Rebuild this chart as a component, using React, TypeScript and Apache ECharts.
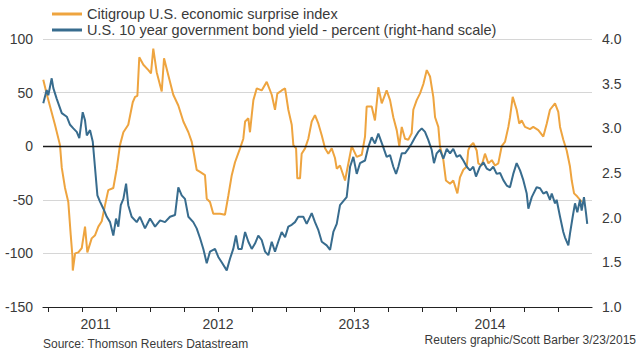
import React, { useEffect, useRef } from "react";
import * as echarts from "echarts";

// Citigroup U.S. economic surprise index: [decimal year, index]
const surprise: [number, number][] = [
  [2011.215, 62], [2011.240, 49], [2011.265, 37], [2011.301, 20], [2011.338, 1], [2011.351, -20],
  [2011.375, -39], [2011.399, -52], [2011.417, -83], [2011.429, -102], [2011.432, -116], [2011.449, -100],
  [2011.473, -99], [2011.498, -95], [2011.522, -75], [2011.539, -99], [2011.571, -86], [2011.596, -83],
  [2011.620, -75], [2011.645, -70], [2011.669, -55], [2011.693, -41], [2011.730, -39], [2011.755, -21],
  [2011.779, 1], [2011.804, 13], [2011.840, 20], [2011.873, 41], [2011.890, 46], [2011.907, 47],
  [2011.921, 83], [2011.951, 76], [2011.988, 71], [2012.007, 68], [2012.024, 91], [2012.049, 69],
  [2012.086, 51], [2012.103, 82], [2012.135, 66], [2012.171, 48], [2012.208, 38], [2012.245, 23],
  [2012.282, 13], [2012.307, 4], [2012.324, -8], [2012.343, -22], [2012.368, -24], [2012.404, -27],
  [2012.417, -49], [2012.441, -52], [2012.465, -63], [2012.515, -63], [2012.551, -64], [2012.576, -46],
  [2012.601, -27], [2012.625, -15], [2012.662, -2], [2012.686, 7], [2012.699, 23], [2012.723, 26],
  [2012.735, 13], [2012.748, 29], [2012.760, 43], [2012.785, 54], [2012.821, 52], [2012.858, 60],
  [2012.895, 48], [2012.919, 34], [2012.936, 49], [2012.968, 52], [2012.993, 54], [2013.017, 34],
  [2013.042, 20], [2013.054, 1], [2013.074, -2], [2013.083, -30], [2013.103, -30], [2013.115, -7],
  [2013.140, -2], [2013.164, 7], [2013.189, 23], [2013.213, 29], [2013.238, 21], [2013.263, 10],
  [2013.287, -2], [2013.311, -7], [2013.336, -2], [2013.360, -11], [2013.373, -21], [2013.397, -18],
  [2013.434, -32], [2013.483, 0], [2013.520, -10], [2013.557, -8], [2013.581, 9], [2013.593, 37],
  [2013.630, 37], [2013.654, 24], [2013.679, 55], [2013.704, 40], [2013.740, 52], [2013.765, 43],
  [2013.789, 27], [2013.814, 15], [2013.833, 0], [2013.851, 18], [2013.875, 7], [2013.899, 6],
  [2013.924, 12], [2013.936, 34], [2013.961, 43], [2013.985, 49], [2014.010, 58], [2014.035, 71],
  [2014.059, 65], [2014.083, 46], [2014.096, 27], [2014.120, 18], [2014.132, 0], [2014.157, -13],
  [2014.176, -32], [2014.206, -35], [2014.230, -32], [2014.260, -44], [2014.279, -29], [2014.304, -22],
  [2014.329, -19], [2014.340, -4], [2014.353, 0], [2014.377, 3], [2014.402, -4], [2014.414, -16],
  [2014.439, -18], [2014.463, -7], [2014.488, -16], [2014.513, -13], [2014.537, -18], [2014.561, -16],
  [2014.586, 0], [2014.610, 4], [2014.635, 18], [2014.647, 27], [2014.667, 46], [2014.696, 34],
  [2014.715, 21], [2014.733, 24], [2014.757, 18], [2014.794, 16], [2014.818, 18], [2014.855, 15],
  [2014.892, 9], [2014.917, 21], [2014.941, 34], [2014.978, 40], [2015.002, 32], [2015.015, 18],
  [2015.039, 6], [2015.064, -4], [2015.088, -19], [2015.101, -32], [2015.118, -44], [2015.142, -47],
  [2015.162, -50], [2015.174, -52],
];

// U.S. 10 year government bond yield, percent: [decimal year, yield]
const yields: [number, number][] = [
  [2011.215, 3.28], [2011.240, 3.43], [2011.252, 3.37], [2011.277, 3.56], [2011.289, 3.45], [2011.314, 3.33],
  [2011.351, 3.17], [2011.388, 3.13], [2011.412, 3.04], [2011.436, 3.00], [2011.461, 2.96], [2011.480, 2.89],
  [2011.505, 3.18], [2011.522, 3.09], [2011.535, 2.92], [2011.559, 2.98], [2011.579, 2.85], [2011.596, 2.55],
  [2011.613, 2.25], [2011.632, 2.18], [2011.657, 2.10], [2011.682, 2.01], [2011.706, 1.95], [2011.730, 1.80],
  [2011.750, 1.99], [2011.767, 1.90], [2011.785, 2.14], [2011.804, 2.21], [2011.824, 2.38], [2011.840, 2.14],
  [2011.865, 2.01], [2011.902, 1.95], [2011.926, 2.01], [2011.963, 1.88], [2012.000, 1.99], [2012.037, 1.90],
  [2012.074, 1.97], [2012.110, 1.95], [2012.147, 2.01], [2012.184, 2.03], [2012.208, 2.34], [2012.233, 2.25],
  [2012.257, 2.21], [2012.282, 2.01], [2012.318, 1.95], [2012.343, 1.88], [2012.368, 1.77], [2012.392, 1.65],
  [2012.417, 1.49], [2012.441, 1.62], [2012.478, 1.65], [2012.502, 1.56], [2012.527, 1.50], [2012.564, 1.41],
  [2012.588, 1.54], [2012.612, 1.65], [2012.632, 1.80], [2012.649, 1.65], [2012.674, 1.65], [2012.699, 1.84],
  [2012.723, 1.73], [2012.748, 1.65], [2012.772, 1.71], [2012.796, 1.80], [2012.821, 1.75], [2012.846, 1.62],
  [2012.870, 1.58], [2012.895, 1.73], [2012.919, 1.62], [2012.943, 1.73], [2012.968, 1.84], [2012.993, 1.78],
  [2013.017, 1.90], [2013.042, 1.92], [2013.066, 1.95], [2013.090, 2.01], [2013.127, 2.01], [2013.152, 1.93],
  [2013.189, 2.05], [2013.213, 1.95], [2013.238, 1.86], [2013.263, 1.73], [2013.299, 1.69], [2013.324, 1.64],
  [2013.348, 1.84], [2013.373, 1.93], [2013.397, 2.14], [2013.446, 2.23], [2013.471, 2.57], [2013.495, 2.68],
  [2013.520, 2.49], [2013.544, 2.61], [2013.581, 2.64], [2013.605, 2.79], [2013.630, 2.90], [2013.654, 2.83],
  [2013.679, 2.94], [2013.715, 2.79], [2013.740, 2.68], [2013.765, 2.70], [2013.789, 2.57], [2013.809, 2.49],
  [2013.826, 2.57], [2013.851, 2.72], [2013.875, 2.72], [2013.899, 2.77], [2013.924, 2.83], [2013.949, 2.90],
  [2013.973, 2.96], [2013.998, 3.00], [2014.022, 2.96], [2014.046, 2.87], [2014.071, 2.76], [2014.088, 2.61],
  [2014.108, 2.72], [2014.132, 2.76], [2014.157, 2.66], [2014.182, 2.77], [2014.206, 2.72], [2014.230, 2.77],
  [2014.255, 2.68], [2014.279, 2.70], [2014.304, 2.64], [2014.329, 2.57], [2014.353, 2.53], [2014.377, 2.57],
  [2014.397, 2.46], [2014.426, 2.57], [2014.451, 2.62], [2014.476, 2.55], [2014.500, 2.53], [2014.524, 2.57],
  [2014.549, 2.49], [2014.574, 2.50], [2014.598, 2.42], [2014.623, 2.36], [2014.647, 2.34], [2014.671, 2.49],
  [2014.696, 2.61], [2014.721, 2.53], [2014.745, 2.42], [2014.770, 2.27], [2014.782, 2.10], [2014.807, 2.23],
  [2014.843, 2.34], [2014.868, 2.33], [2014.892, 2.27], [2014.917, 2.29], [2014.941, 2.20], [2014.954, 2.27],
  [2014.978, 2.16], [2014.990, 2.20], [2015.015, 2.01], [2015.039, 1.84], [2015.051, 1.78], [2015.076, 1.69],
  [2015.088, 1.82], [2015.108, 2.01], [2015.125, 2.16], [2015.142, 2.06], [2015.162, 2.20], [2015.174, 2.08],
  [2015.191, 2.23], [2015.206, 2.05], [2015.215, 1.93],
];

const quarterTicks = [
  2011.25, 2011.5, 2011.75, 2012, 2012.25, 2012.5, 2012.75, 2013, 2013.25, 2013.5, 2013.75,
  2014, 2014.25, 2014.5, 2014.75, 2015,
];
const yearLabels = [2011.6, 2012.5, 2013.5, 2014.5];

const SURPRISE_NAME = "Citigroup U.S. economic surprise index";
const YIELD_NAME = "U.S. 10 year government bond yield - percent (right-hand scale)";
const SOURCE_TEXT = "Source: Thomson Reuters Datastream";
const CREDIT_TEXT = "Reuters graphic/Scott Barber 3/23/2015";

const FONT = "'Liberation Sans', Arial, sans-serif";
const ORANGE = "#EEA43F";
const BLUE = "#386C8E";
const TEXT = "#3a3a3a";

export default function App() {
  const ref = useRef<HTMLDivElement>(null);
  useEffect(() => {
    if (!ref.current) return;
    const chart = echarts.init(ref.current, null, { renderer: "svg" });
    chart.setOption({
      animation: false,
      backgroundColor: "#ffffff",
      textStyle: { fontFamily: FONT },
      legend: {
        orient: "vertical",
        left: 52,
        top: 6,
        padding: 0,
        itemWidth: 30,
        itemHeight: 3,
        itemGap: 0,
        icon: "rect",
        data: [SURPRISE_NAME, YIELD_NAME],
        textStyle: { fontFamily: FONT, fontSize: 14.5, lineHeight: 16, color: TEXT },
      },
      grid: { left: 43, width: 549, top: 39, height: 268, containLabel: false },
      xAxis: {
        type: "value",
        min: 2011.213,
        max: 2015.25,
        axisLine: { onZero: false, lineStyle: { color: "#222", width: 1.2 } },
        axisTick: { customValues: quarterTicks, length: 5, lineStyle: { color: "#222" } },
        axisLabel: {
          customValues: yearLabels,
          formatter: (v: number) => String(Math.floor(v)),
          fontFamily: FONT,
          fontSize: 14,
          color: TEXT,
          margin: 10,
        },
        splitLine: { show: false },
      },
      yAxis: [
        {
          type: "value",
          min: -150,
          max: 100,
          interval: 50,
          position: "left",
          axisLine: { show: false },
          axisTick: { show: false },
          axisLabel: { fontFamily: FONT, fontSize: 14, color: TEXT, margin: 10 },
          splitLine: { lineStyle: { color: "#d6d6d6", width: 1 } },
        },
        {
          type: "value",
          min: 1,
          max: 4,
          interval: 0.5,
          position: "right",
          axisLine: { show: false },
          axisTick: { show: false },
          axisLabel: {
            fontFamily: FONT,
            fontSize: 14,
            color: TEXT,
            margin: 10,
            formatter: (v: number) => v.toFixed(1),
          },
          splitLine: { show: false },
        },
      ],
      series: [
        {
          name: SURPRISE_NAME,
          type: "line",
          yAxisIndex: 0,
          data: surprise,
          showSymbol: false,
          symbol: "none",
          lineStyle: { color: ORANGE, width: 2 },
          itemStyle: { color: ORANGE },
          markLine: {
            silent: true,
            symbol: "none",
            label: { show: false },
            lineStyle: { color: "#1a1a1a", width: 1.3, type: "solid" },
            data: [{ yAxis: 0 }],
          },
          z: 2,
        },
        {
          name: YIELD_NAME,
          type: "line",
          yAxisIndex: 1,
          data: yields,
          showSymbol: false,
          symbol: "none",
          lineStyle: { color: BLUE, width: 2 },
          itemStyle: { color: BLUE },
          z: 3,
        },
      ],
      graphic: [
        {
          type: "text",
          left: 43,
          top: 338,
          style: { text: SOURCE_TEXT, font: `12px ${FONT}`, fill: TEXT },
        },
        {
          type: "text",
          right: 4,
          top: 334,
          style: { text: CREDIT_TEXT, font: `12px ${FONT}`, fill: TEXT },
        },
      ],
    });
    return () => chart.dispose();
  }, []);
  return (
    <div
      ref={ref}
      style={{ position: "fixed", left: 0, top: 0, width: 640, height: 352 }}
    />
  );
}
